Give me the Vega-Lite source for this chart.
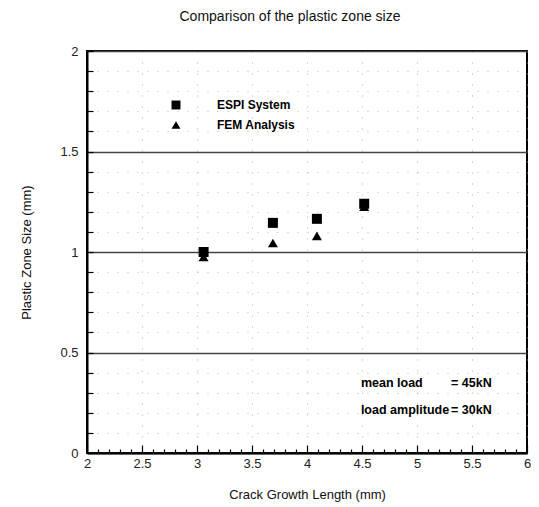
{
  "$schema": "https://vega.github.io/schema/vega-lite/v6.json",
  "autosize": "none",
  "width": 440,
  "height": 402,
  "padding": {"left": 87, "top": 51, "right": 12, "bottom": 54},
  "background": "white",
  "title": {"text": "Comparison of the plastic zone size", "fontSize": 14, "fontWeight": "normal", "font": "Liberation Sans", "color": "#111", "offset": 21, "dx": -17},
  "config": {
    "view": {"stroke": "black", "strokeWidth": 2},
    "font": "Liberation Sans"
  },
  "datasets": {
    "pts": [
      {"x": 3.06, "y": 1.0, "series": "ESPI System"},
      {"x": 3.69, "y": 1.145, "series": "ESPI System"},
      {"x": 4.09, "y": 1.165, "series": "ESPI System"},
      {"x": 4.52, "y": 1.24, "series": "ESPI System"},
      {"x": 3.06, "y": 0.975, "series": "FEM Analysis"},
      {"x": 3.69, "y": 1.045, "series": "FEM Analysis"},
      {"x": 4.09, "y": 1.08, "series": "FEM Analysis"},
      {"x": 4.52, "y": 1.225, "series": "FEM Analysis"}
    ],
    "notes": [
      {"x": 4.49, "y": 0.348, "label": "mean load"},
      {"x": 5.31, "y": 0.348, "label": "= 45kN"},
      {"x": 4.49, "y": 0.214, "label": "load amplitude"},
      {"x": 5.31, "y": 0.214, "label": "= 30kN"}
    ]
  },
  "layer": [
    {
      "data": {"name": "pts"},
      "mark": {"type": "point", "filled": true, "opacity": 1, "size": 100},
      "encoding": {
        "x": {
          "field": "x", "type": "quantitative",
          "scale": {"domain": [2, 6], "nice": false, "zero": false},
          "axis": {
            "title": "Crack Growth Length (mm)",
            "titleFontSize": 13, "titleFontWeight": "normal", "titleColor": "#111", "titlePadding": 14,
            "values": [2,2.1,2.2,2.3,2.4,2.5,2.6,2.7,2.8,2.9,3,3.1,3.2,3.3,3.4,3.5,3.6,3.7,3.8,3.9,4,4.1,4.2,4.3,4.4,4.5,4.6,4.7,4.8,4.9,5,5.1,5.2,5.3,5.4,5.5,5.6,5.7,5.8,5.9,6],
            "tickCount": 200,
            "format": "~g",
            "labelExpr": "abs(datum.value*2 - round(datum.value*2)) < 0.001 ? datum.label : ''",
            "labelOverlap": false,
            "labelFontSize": 13, "labelColor": "#222", "labelPadding": 12, "labelFlush": false,
            "domainColor": "black", "domainWidth": 2,
            "ticks": true,
            "tickColor": "black", "tickWidth": 1.2,
            "tickSize": {"condition": {"test": "abs(datum.value*2 - round(datum.value*2)) < 0.001", "value": -8}, "value": -4},
            "grid": true,
            "gridColor": "#999",
            "gridDash": [1, 10],
            "gridOpacity": {"condition": {"test": "abs(datum.value*2 - round(datum.value*2)) < 0.001", "value": 0.8}, "value": 0}
          }
        },
        "y": {
          "field": "y", "type": "quantitative",
          "scale": {"domain": [0, 2], "nice": false},
          "axis": {
            "title": "Plastic Zone Size (mm)",
            "titleFontSize": 13, "titleFontWeight": "normal", "titleColor": "#111", "titlePadding": 26,
            "values": [0,0.1,0.2,0.3,0.4,0.5,0.6,0.7,0.8,0.9,1,1.1,1.2,1.3,1.4,1.5,1.6,1.7,1.8,1.9,2],
            "tickCount": 200,
            "format": "~g",
            "labelExpr": "abs(datum.value*2 - round(datum.value*2)) < 0.001 ? datum.label : ''",
            "labelOverlap": false,
            "labelFontSize": 13, "labelColor": "#222", "labelPadding": 15, "labelFlush": false,
            "domainColor": "black", "domainWidth": 2,
            "ticks": true,
            "tickColor": "black", "tickWidth": 1.2, "tickSize": -6,
            "grid": true,
            "gridColor": {"condition": {"test": "abs(datum.value*2 - round(datum.value*2)) < 0.001", "value": "#444"}, "value": "#bbb"},
            "gridWidth": {"condition": {"test": "abs(datum.value*2 - round(datum.value*2)) < 0.001", "value": 1.5}, "value": 1},
            "gridDash": {"condition": {"test": "abs(datum.value*2 - round(datum.value*2)) < 0.001", "value": []}, "value": [1, 9]}
          }
        },
        "shape": {
          "field": "series", "type": "nominal",
          "scale": {"domain": ["ESPI System", "FEM Analysis"], "range": ["square", "triangle-up"]},
          "legend": {
            "title": null, "orient": "none", "legendX": 83, "legendY": 48, "padding": 0,
            "labelFontSize": 12, "labelFontWeight": "bold", "labelColor": "black", "labelOffset": 35,
            "symbolFillColor": "black", "symbolStrokeColor": "black", "symbolSize": 80, "rowPadding": 5
          }
        },
        "color": {"value": "black"}
      }
    },
    {
      "data": {"name": "notes"},
      "mark": {"type": "text", "align": "left", "baseline": "middle", "fontSize": 12.5, "fontWeight": "bold", "color": "black"},
      "encoding": {
        "x": {"field": "x", "type": "quantitative"},
        "y": {"field": "y", "type": "quantitative"},
        "text": {"field": "label"}
      }
    }
  ]
}
